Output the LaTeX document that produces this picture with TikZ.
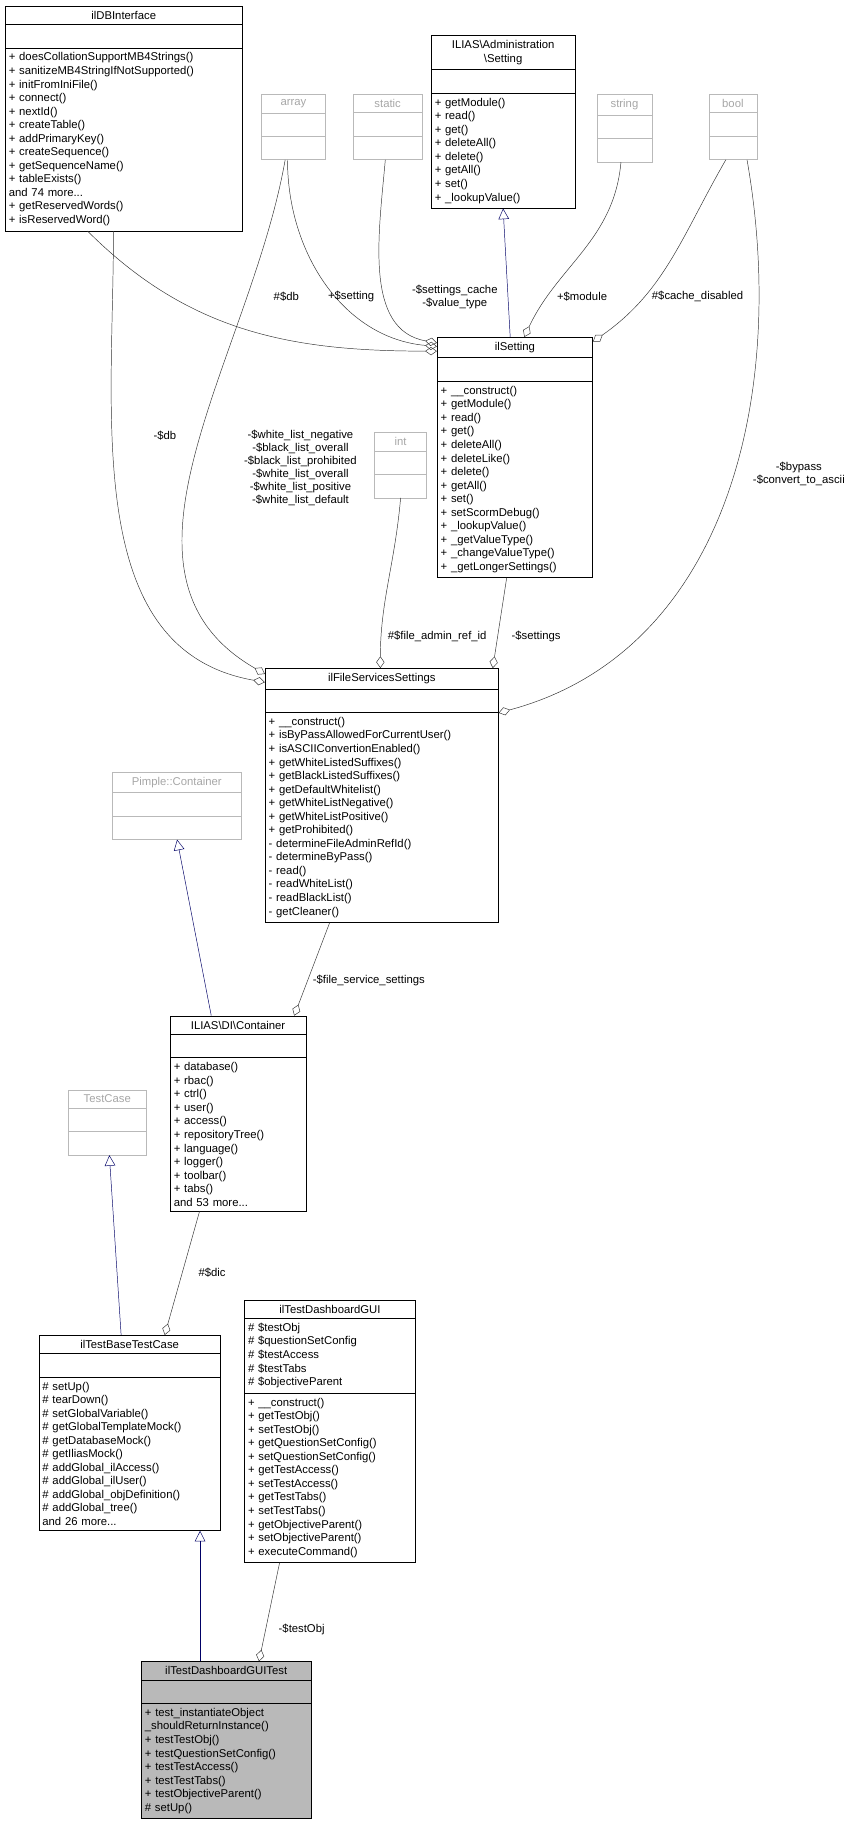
\documentclass[tikz,border=0pt]{standalone}
\usepackage{fontspec}
\setmainfont{Liberation Sans}
\usetikzlibrary{shapes.multipart,arrows.meta}
\tikzset{
  cls/.style={rectangle split, rectangle split parts=3, draw=black, anchor=north,
    font=\fontsize{9.6}{11.5}\selectfont, inner xsep=3pt, inner ysep=4pt, align=left},
  ext/.style={cls, draw=gray!55, text=gray!70},
  cur/.style={cls, rectangle split part fill={gray!55,gray!55,gray!55}},
  inh/.style={draw=blue!40!black, -{Triangle[open,length=9pt,width=9pt]}},
  use/.style={draw=gray!40!black, -{Diamond[open,length=10pt,width=7pt]}},
  lbl/.style={font=\fontsize{9.6}{11}\selectfont, align=center},
}
\newcommand{\emptypart}{\nodepart{second}\strut\nodepart{third}\strut}
\newcommand{\ctitle}[1]{\parbox{\linewidth}{\centering #1}}
\begin{document}
\begin{tikzpicture}[x=1pt,y=-1pt]
\useasboundingbox (0,0) rectangle (725,1565);

% classes at the top
\node[cls, text width=195pt] (db) at (105,5) {\ctitle{ilDBInterface}\nodepart{second}\strut\nodepart{third}%
+ doesCollationSupportMB4Strings()\\+ sanitizeMB4StringIfNotSupported()\\+ initFromIniFile()\\+ connect()\\+ nextId()\\+ createTable()\\+ addPrimaryKey()\\+ createSequence()\\+ getSequenceName()\\+ tableExists()\\and 74 more...\\+ getReservedWords()\\+ isReservedWord()};
\node[ext, text width=48pt] (arr) at (249,80) {\ctitle{array}\emptypart};
\node[ext, text width=52pt] (stat) at (329,80) {\ctitle{static}\emptypart};
\node[cls, text width=116pt] (admset) at (427,30) {\ctitle{ILIAS\textbackslash Administration\\\textbackslash Setting}\nodepart{second}\strut\nodepart{third}%
+ getModule()\\+ read()\\+ get()\\+ deleteAll()\\+ delete()\\+ getAll()\\+ set()\\+ \_lookupValue()};
\node[ext, text width=41pt] (str) at (530,80) {\ctitle{string}\emptypart};
\node[ext, text width=35pt] (bool) at (622,80) {\ctitle{bool}\emptypart};

\node[cls, text width=126pt] (set) at (437,286) {\ctitle{ilSetting}\nodepart{second}\strut\nodepart{third}%
+ \_\_construct()\\+ getModule()\\+ read()\\+ get()\\+ deleteAll()\\+ deleteLike()\\+ delete()\\+ getAll()\\+ set()\\+ setScormDebug()\\+ \_lookupValue()\\+ \_getValueType()\\+ \_changeValueType()\\+ \_getLongerSettings()};
\node[ext, text width=38pt] (int) at (340,367) {\ctitle{int}\emptypart};

\node[cls, text width=192pt] (fss) at (324,567) {\ctitle{ilFileServicesSettings}\nodepart{second}\strut\nodepart{third}%
+ \_\_construct()\\+ isByPassAllowedForCurrentUser()\\+ isASCIIConvertionEnabled()\\+ getWhiteListedSuffixes()\\+ getBlackListedSuffixes()\\+ getDefaultWhitelist()\\+ getWhiteListNegative()\\+ getWhiteListPositive()\\+ getProhibited()\\- determineFileAdminRefId()\\- determineByPass()\\- read()\\- readWhiteList()\\- readBlackList()\\- getCleaner()};
\node[ext, text width=103pt] (pimple) at (150,655) {\ctitle{Pimple::Container}\emptypart};

\node[cls, text width=109pt] (dic) at (202,862) {\ctitle{ILIAS\textbackslash DI\textbackslash Container}\nodepart{second}\strut\nodepart{third}%
+ database()\\+ rbac()\\+ ctrl()\\+ user()\\+ access()\\+ repositoryTree()\\+ language()\\+ logger()\\+ toolbar()\\+ tabs()\\and 53 more...};
\node[ext, text width=60pt] (tcase) at (91,925) {\ctitle{TestCase}\emptypart};

\node[cls, text width=148pt] (base) at (110,1133) {\ctitle{ilTestBaseTestCase}\nodepart{second}\strut\nodepart{third}%
\# setUp()\\\# tearDown()\\\# setGlobalVariable()\\\# getGlobalTemplateMock()\\\# getDatabaseMock()\\\# getIliasMock()\\\# addGlobal\_ilAccess()\\\# addGlobal\_ilUser()\\\# addGlobal\_objDefinition()\\\# addGlobal\_tree()\\and 26 more...};
\node[cls, text width=139pt] (gui) at (280,1103) {\ctitle{ilTestDashboardGUI}\nodepart{second}%
\# \$testObj\\\# \$questionSetConfig\\\# \$testAccess\\\# \$testTabs\\\# \$objectiveParent\nodepart{third}%
+ \_\_construct()\\+ getTestObj()\\+ setTestObj()\\+ getQuestionSetConfig()\\+ setQuestionSetConfig()\\+ getTestAccess()\\+ setTestAccess()\\+ getTestTabs()\\+ setTestTabs()\\+ getObjectiveParent()\\+ setObjectiveParent()\\+ executeCommand()};

\node[cur, text width=138pt] (test) at (192,1410) {\ctitle{ilTestDashboardGUITest}\nodepart{second}\strut\nodepart{third}%
+ test\_instantiateObject\\\_shouldReturnInstance()\\+ testTestObj()\\+ testQuestionSetConfig()\\+ testTestAccess()\\+ testTestTabs()\\+ testObjectiveParent()\\\# setUp()};

% inheritance
\draw[inh] ([xshift=-4pt]set.north) -- (admset.south);
\draw[inh] ([xshift=35pt]dic.north west) -- ([xshift=55pt]pimple.south west);
\draw[inh] ([xshift=70pt]base.north west) -- ([xshift=35pt]tcase.south west);
\draw[inh] ([xshift=50pt]test.north west) -- ([xshift=137pt]base.south west);

% members
\draw[use] ([xshift=-3pt]str.south) to[out=-95,in=65] ([xshift=8pt]set.north);
\draw[use] ([xshift=-6pt]bool.south) to[out=-120,in=35] ([yshift=-4pt]set.north east);
\draw[use] ([xshift=-5pt]arr.south) to[out=-90,in=175] ([yshift=-8pt]set.north west);
\draw[use] ([xshift=-2pt]stat.south) to[out=-95,in=170] ([yshift=-5pt]set.north west);
\draw[use] ([xshift=70pt]db.south west) to[out=-45,in=180] ([yshift=-12pt]set.north west);
\node[lbl] at (494,252) {+\$module};
\node[lbl] at (592,252) {\#\$cache\_disabled};
\node[lbl] at (298,252) {+\$setting};
\node[lbl] at (386,252) {-\$settings\_cache\\-\$value\_type};
\node[lbl] at (243,252) {\#\$db};

\draw[use] ([xshift=92pt]db.south west) to[out=-90,in=170] ([yshift=-12pt]fss.north west);
\draw[use] ([xshift=-7pt]arr.south) to[out=-100,in=150] ([yshift=-5pt]fss.north west);
\draw[use] (int.south) to[out=-95,in=90] ([xshift=98pt]fss.north west);
\draw[use] ([xshift=-7pt]set.south) -- ([xshift=-5pt]fss.north east);
\draw[use] ([xshift=12pt]bool.south) to[out=-80,in=15] ([yshift=-38pt]fss.north east);
\node[lbl] at (140,370) {-\$db};
\node[lbl] at (255,397) {-\$white\_list\_negative\\-\$black\_list\_overall\\-\$black\_list\_prohibited\\-\$white\_list\_overall\\-\$white\_list\_positive\\-\$white\_list\_default};
\node[lbl] at (371,540) {\#\$file\_admin\_ref\_id};
\node[lbl] at (455,540) {-\$settings};
\node[lbl] at (678,402) {-\$bypass\\-\$convert\_to\_ascii};

\draw[use] ([xshift=55pt]fss.south west) -- ([xshift=-10pt]dic.north east);
\node[lbl, anchor=west] at (262,832) {-\$file\_service\_settings};
\draw[use] ([xshift=25pt]dic.south west) -- ([xshift=107pt]base.north west);
\node[lbl] at (180,1080) {\#\$dic};
\draw[use] ([xshift=30pt]gui.south west) -- ([xshift=100pt]test.north west);
\node[lbl] at (256,1383) {-\$testObj};
\end{tikzpicture}
\end{document}
